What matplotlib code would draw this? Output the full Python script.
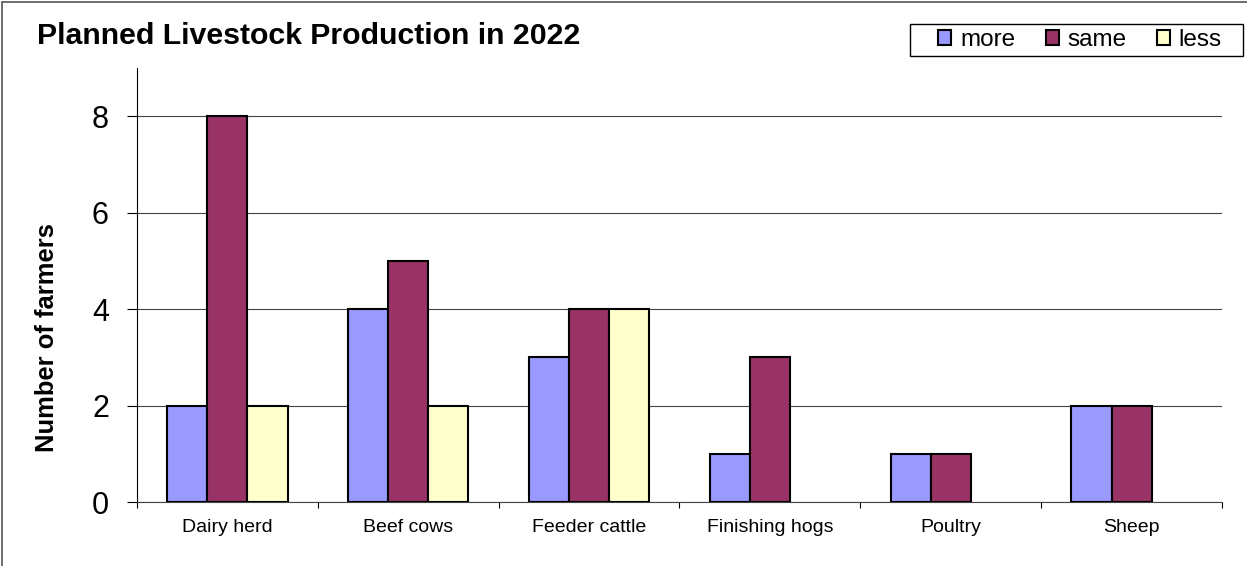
import matplotlib
matplotlib.use("Agg")
import matplotlib.pyplot as plt
import numpy as np
from matplotlib.patches import Rectangle, Patch

categories = ["Dairy herd", "Beef cows", "Feeder cattle", "Finishing hogs", "Poultry", "Sheep"]
series_names = ["more", "same", "less"]
more = [2, 4, 3, 1, 1, 2]
same = [8, 5, 4, 3, 1, 2]
less = [2, 2, 4, 0, 0, 0]
colors = ["#9999FF", "#993366", "#FFFFCC"]
yticks = [0, 2, 4, 6, 8]

plt.rcParams['font.family'] = ['Liberation Sans', 'DejaVu Sans']

W, H = 1247, 566
fig = plt.figure(figsize=(W/100, H/100), dpi=100)
fig.patches.append(Rectangle((2/W, -0.1), 1.2, 1.1 - 1.5/H, transform=fig.transFigure,
                             fill=False, edgecolor="#555555", linewidth=1.2))

left, right, top, bottom = 137, 1222, 68, 502
ax = fig.add_axes([left/W, 1-bottom/H, (right-left)/W, (bottom-top)/H])

x = np.arange(len(categories))
bw = 0.222
for i, (vals, col) in enumerate(zip([more, same, less], colors)):
    v = np.array(vals, dtype=float)
    m = v > 0
    ax.bar((x + (i-1)*bw)[m], v[m], width=bw, color=col, edgecolor="black",
           linewidth=1.5, zorder=3)

ax.set_xlim(-0.5, len(categories)-0.5)
ax.set_ylim(0, 9)
ax.set_yticks(yticks)
ax.set_yticklabels([str(v) for v in yticks], fontsize=22)
ax.yaxis.grid(True, color="#444444", linewidth=0.8, zorder=0)
ax.set_axisbelow(True)
ax.set_xticks(x)
ax.set_xticklabels(categories, fontsize=14)
ax.tick_params(axis='x', length=0, pad=12)
ax.set_xticks(np.arange(len(categories)+1)-0.5, minor=True)
ax.tick_params(axis='x', which='minor', length=4.3, width=0.8)
ax.tick_params(axis='y', length=7.2, width=0.8, pad=13)
for s in ["top", "right"]:
    ax.spines[s].set_visible(False)
ax.spines["left"].set_linewidth(0.8)
ax.spines["bottom"].set_color("#444444")
ax.spines["bottom"].set_linewidth(0.8)

fig.text(47/W, 1-338/H, "Number of farmers", fontsize=18.4, fontweight="bold",
         rotation=90, ha="center", va="center")
fig.text(37/W, 1-36/H, "Planned Livestock Production in 2022", fontsize=21.8,
         fontweight="bold", va="center", ha="left")

fig.patches.append(Rectangle((910/W, 1-56/H), 333/W, 32/H, transform=fig.transFigure,
                             fill=True, facecolor="white", edgecolor="black", linewidth=1.0))
handles = [Patch(facecolor=c, edgecolor="black", linewidth=1.5) for c in colors]
leg = fig.legend(handles, series_names, loc="center", bbox_to_anchor=(1080/W, 1-40/H),
                 ncol=3, fontsize=17.5, frameon=False,
                 handlelength=0.55, handleheight=0.55, handletextpad=0.35, columnspacing=1.25,
                 borderpad=0.2, borderaxespad=0)

fig.savefig("out.png", dpi=100)
